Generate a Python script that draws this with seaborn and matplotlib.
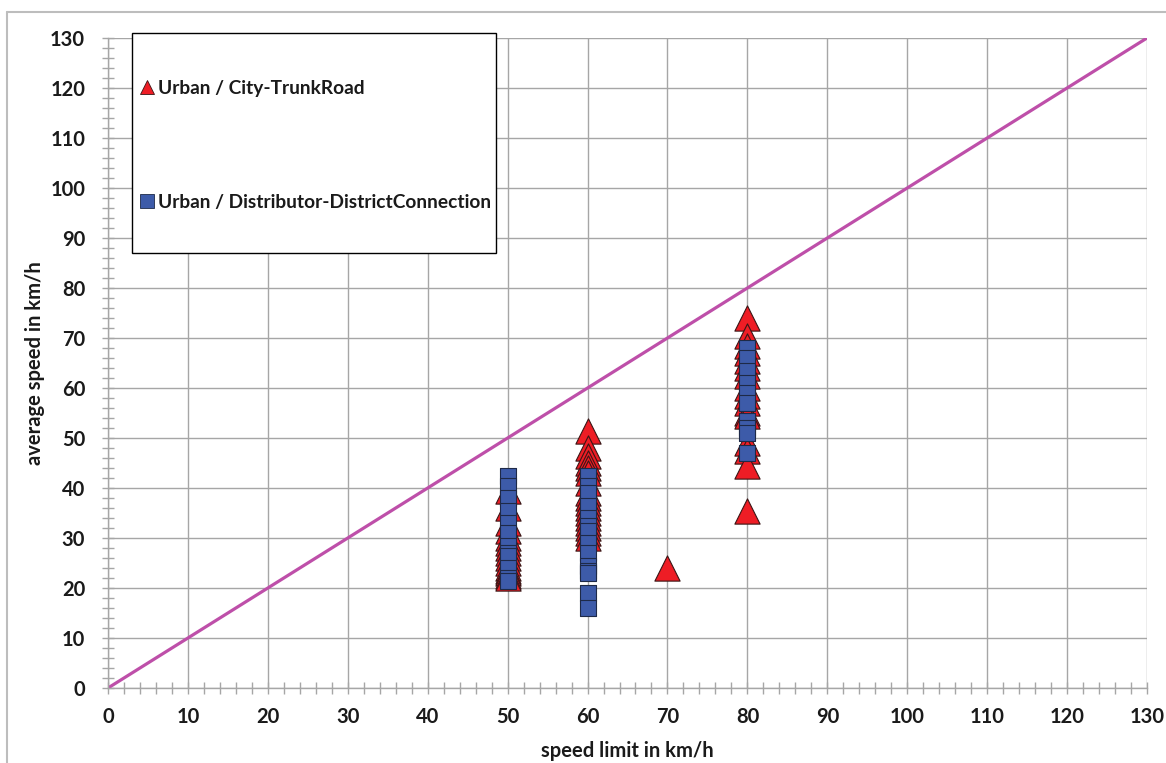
import matplotlib
matplotlib.use("Agg")
import matplotlib.pyplot as plt
import seaborn as sns
import pandas as pd
from matplotlib.lines import Line2D
from matplotlib.patches import Rectangle
from matplotlib.ticker import MultipleLocator

# ---------------- data ----------------
trunk_limit = [50] * 15 + [60] * 17 + [70] + [80] * 16
trunk_speed = [39.5, 36, 33, 31.5, 30, 29, 28, 27, 26, 25, 24, 23.5, 23, 22.5, 22,
               51.5, 48, 46.5, 45, 44, 43, 41, 39, 38, 37, 36, 35, 34, 33, 32, 31, 30,
               24,
               74, 70.5, 68.5, 67, 65.5, 64, 62.5, 60, 58.5, 57, 55, 54.5, 49, 47.5, 44.5, 35.5]

dist_limit = [50] * 12 + [60] * 14 + [80] * 10
dist_speed = [42.5, 40.5, 38, 35.5, 33, 31, 28.5, 27, 26.5, 24, 22, 21.5,
              42.5, 40.5, 39, 36.5, 34, 32.5, 31.5, 29, 27, 24.5, 23.5, 23, 19, 16,
              68, 66, 63.5, 61, 59, 57, 53.5, 52, 51, 47]

series_names = ["Urban / City-TrunkRoad", "Urban / Distributor-DistrictConnection"]
diag_x = [0, 130]
diag_y = [0, 130]
ticks = list(range(0, 131, 10))

# ---------------- style ----------------
sns.set_style("white")
plt.rcParams["font.family"] = ["Lato", "DejaVu Sans"]
plt.rcParams["font.weight"] = "bold"

RED = "#EE1D25"
BLUE = "#3D5BA9"
GRID = "#A6A6A6"
MAGENTA = "#BE4FA9"
TXT = "#1a1a1a"

fig = plt.figure(figsize=(11.66, 7.63), dpi=100)
ax = fig.add_axes([108 / 1166, 75 / 763, 1039 / 1166, 650 / 763])

# outer chart frame (cropped at right/bottom)
fig.add_artist(Line2D([7 / 1166, 7 / 1166], [0, 1 - 12 / 763], transform=fig.transFigure,
                      color="#BDBDBD", lw=1.5))
fig.add_artist(Line2D([7 / 1166, 1], [1 - 12 / 763, 1 - 12 / 763], transform=fig.transFigure,
                      color="#BDBDBD", lw=1.5))

df_trunk = pd.DataFrame({"limit": trunk_limit, "speed": trunk_speed})
df_dist = pd.DataFrame({"limit": dist_limit, "speed": dist_speed})
df_diag = pd.DataFrame({"x": diag_x, "y": diag_y})

sns.lineplot(data=df_diag, x="x", y="y", ax=ax, color=MAGENTA, lw=2.3, zorder=2)
sns.scatterplot(data=df_trunk, x="limit", y="speed", ax=ax, marker="^", s=330,
                color=RED, edgecolor="#3A1515", linewidth=0.8, zorder=3)
sns.scatterplot(data=df_dist, x="limit", y="speed", ax=ax, marker="s", s=120,
                color=BLUE, edgecolor="#1E2A48", linewidth=0.8, zorder=4)

ax.set_xlim(0, 130)
ax.set_ylim(0, 130)
ax.set_xticks(ticks)
ax.set_yticks(ticks)
ax.xaxis.set_minor_locator(MultipleLocator(2))
ax.yaxis.set_minor_locator(MultipleLocator(2))
ax.grid(True, which="major", color=GRID, lw=1.0)
ax.grid(False, which="minor")
ax.set_axisbelow(True)
for side in ["top", "right"]:
    ax.spines[side].set_visible(False)
for side in ["left", "bottom"]:
    ax.spines[side].set_color(GRID)
    ax.spines[side].set_linewidth(1.0)
ax.tick_params(which="both", bottom=True, left=True, top=False, right=False,
               direction="inout", color=GRID, width=1.0)
ax.tick_params(which="major", length=9, labelsize=14.5)
ax.tick_params(axis="x", which="major", pad=9)
ax.tick_params(axis="y", which="major", pad=12)
ax.tick_params(which="minor", length=8)
for lab in ax.get_xticklabels() + ax.get_yticklabels():
    lab.set_fontweight("bold")
    lab.set_color(TXT)

ax.set_xlabel("speed limit in km/h", fontsize=14.5, fontweight="bold", labelpad=10, color=TXT)
ax.set_ylabel("average speed in km/h", fontsize=14.5, fontweight="bold", labelpad=4, color=TXT)

# legend box
x0 = (132 - 108) / 1039
x1 = (496 - 108) / 1039
y0 = (688 - 253) / 650
y1 = (688 - 33) / 650
ax.add_patch(Rectangle((x0, y0), x1 - x0, y1 - y0, transform=ax.transAxes, facecolor="white",
                       edgecolor="black", lw=1.0, zorder=6, clip_on=False))
handles = [
    Line2D([], [], ls="none", marker="^", markersize=10, markerfacecolor=RED,
           markeredgecolor="#3A1515", markeredgewidth=0.6),
    Line2D([], [], ls="none", marker="s", markersize=9.5, markerfacecolor=BLUE,
           markeredgecolor="#1E2A48", markeredgewidth=0.6),
]
leg = ax.legend(handles, series_names, loc="upper left", frameon=False,
                bbox_to_anchor=((137 - 108) / 1039, (688 - 80) / 650),
                borderpad=0, borderaxespad=0, handlelength=1.0, handletextpad=0.08,
                labelspacing=5.05,
                prop={"family": ["Lato", "DejaVu Sans"], "weight": "bold", "size": 13.8})
leg.set_zorder(7)
for t in leg.get_texts():
    t.set_color(TXT)

fig.savefig("out.png", dpi=100)
